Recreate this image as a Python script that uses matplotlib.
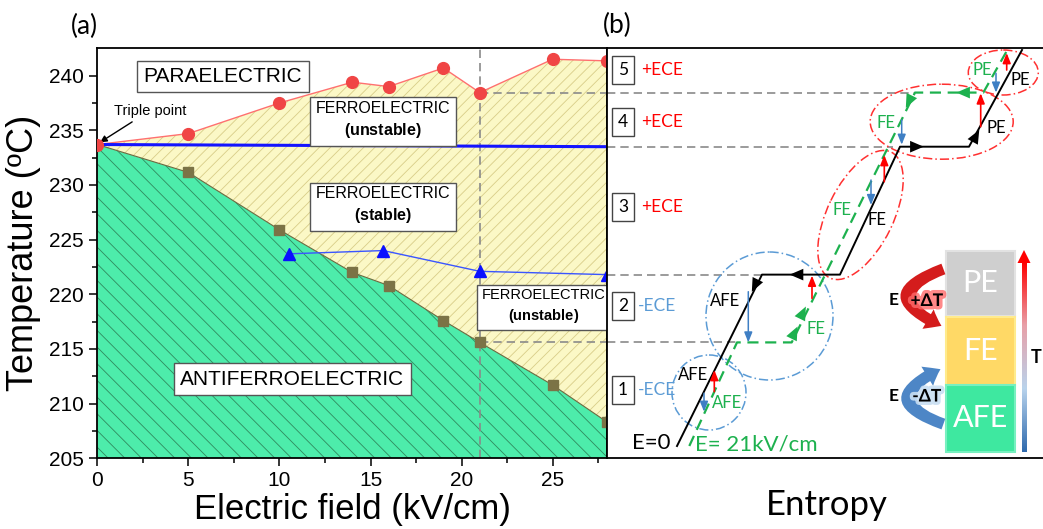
import numpy as np
import matplotlib
matplotlib.use('Agg')
import matplotlib.pyplot as plt
import matplotlib.patches as mpatches
import matplotlib.patheffects as pe
from matplotlib import transforms
from matplotlib.colors import LinearSegmentedColormap

plt.rcParams['font.family'] = ['Liberation Sans', 'DejaVu Sans']
plt.rcParams['hatch.linewidth'] = 0.6
plt.rcParams['mathtext.fontset'] = 'custom'
plt.rcParams['mathtext.rm'] = 'Liberation Sans'
plt.rcParams['mathtext.bf'] = 'Liberation Sans:bold'

# ---- panel (a) data: phase diagram ----
field = [0, 5, 10, 14, 16, 19, 21, 25, 28]                      # kV/cm
t_pe_fe = [233.7, 234.7, 237.5, 239.4, 239.0, 240.7, 238.45, 241.5, 241.35]
t_afe_fe = [233.7, 231.15, 225.9, 222.0, 220.8, 217.6, 215.6, 211.7, 208.3]
field_tri = [10.5, 15.7, 21, 28]
t_tri = [223.7, 224.0, 222.1, 221.8]
field_blue = [0, 28]
t_blue = [233.7, 233.5]

# ---- panel (b) schematic, pixel-like coords (y grows downward) ----
W, H = 1043, 529
Y0, Y1 = 48.3, 458.3
TMIN, TMAX = 205, 242.5


def t2y(t):
    return Y1 - (t - TMIN) * (Y1 - Y0) / (TMAX - TMIN)


lev = [238.45, 233.5, 221.8, 215.6]
ly = [t2y(v) for v in lev]
black_x = [677, 762, 840, 900, 969, 1022]
black_y = [446, ly[2], ly[2], ly[1], ly[1], 50]
green_x = [689.3, 737, 791.7, 915, 983.3, 1008.3]
green_y = [446, ly[3], ly[3], ly[0], ly[0], 48.3]

red_up = [(1006.7, 70, 53), (980.7, 126.7, 93.3), (884.3, 181.7, 155),
          (812, 298.3, ly[2] + 1), (714.3, 391.7, 370)]
blue_dn = [(996, 73.3, ly[0]), (901.7, 120, ly[1] - 2), (871, 180, 205),
           (748.3, 291.7, ly[3]), (704, 393.3, 411.7)]

fig = plt.figure(figsize=(W / 100, H / 100), dpi=100)


def frac(x0, y0, x1, y1):
    return [x0 / W, 1 - y1 / H, (x1 - x0) / W, (y1 - y0) / H]


ax = fig.add_axes(frac(97.3, Y0, 607.3, Y1))
axb = fig.add_axes(frac(607.3, Y0, 1043, Y1))

# ================= panel (a) =================
ax.fill_between(field, TMIN, t_afe_fe, facecolor='#4decab', edgecolor='#2f8a5e',
                hatch='\\\\', linewidth=0, zorder=1)
ax.fill_between(field, t_afe_fe, t_pe_fe, facecolor='#fbf8c6', edgecolor='#d8cd88',
                hatch='///', linewidth=0, zorder=1)

ax.plot(field, t_pe_fe, '-', color='#ff7070', lw=1, zorder=3)
ax.plot(field, t_pe_fe, 'o', color='#f04545', ms=8.5, zorder=4)
ax.plot(field, t_afe_fe, '-', color='#6a6a40', lw=0.8, zorder=3)
ax.plot(field[1:], t_afe_fe[1:], 's', color='#7b7346', ms=7.5, zorder=4)
ax.plot(field_blue, t_blue, '-', color='#1414ff', lw=2.2, zorder=3)
ax.plot(field_tri, t_tri, '-', color='#3a55ff', lw=1, zorder=3)
ax.plot(field_tri, t_tri, '^', color='#0a10ff', ms=9, zorder=4)

dash = dict(color='#8a8a8a', lw=1.2, ls=(0, (5, 3)), zorder=2)
ax.plot([21, 21], [TMIN, TMAX], **dash)
ax.plot([21, 28], [lev[0], lev[0]], **dash)
ax.plot([21, 28], [lev[3], lev[3]], **dash)

box = dict(boxstyle='square,pad=0.3', fc='white', ec='#555555', lw=1)
ax.text(6.9, 239.9, 'PARAELECTRIC', fontsize=15, ha='center', va='center', bbox=box, zorder=6)
ax.text(10.7, 212.25, 'ANTIFERROELECTRIC', fontsize=15, ha='center', va='center', bbox=box, zorder=6)
for xc, yc, sub, fs in [(15.7, 235.9, 'unstable', 11.5), (15.7, 228.1, 'stable', 11.5),
                        (24.5, 218.9, 'unstable', 10.5)]:
    ax.text(xc, yc, 'FERROELECTRIC\n$\\mathbf{(' + sub + ')}$', fontsize=fs,
            ha='center', va='center', multialignment='center',
            bbox=dict(boxstyle='square,pad=0.35', fc='white', ec='#555555', lw=1),
            zorder=6, linespacing=1.35)

ax.annotate('Triple point', xy=(0.15, 233.9), xytext=(0.9, 236.8), fontsize=10.5,
            ha='left', va='center',
            arrowprops=dict(arrowstyle='-|>', color='black', lw=1, shrinkA=2, shrinkB=0,
                            mutation_scale=10))

ax.set_xlim(0, 28)
ax.set_ylim(TMIN, TMAX)
ax.set_xticks([0, 5, 10, 15, 20, 25])
ax.set_xticks(np.arange(2.5, 28, 5), minor=True)
ax.set_yticks(np.arange(205, 241, 5))
ax.set_yticks(np.arange(207.5, 242, 5), minor=True)
ax.tick_params(which='both', direction='out', width=1.1, labelsize=15)
ax.tick_params(which='major', length=6)
ax.tick_params(which='minor', length=3.5)
for s in ax.spines.values():
    s.set_linewidth(1.3)
ax.set_xlabel('Electric field (kV/cm)', fontsize=25, labelpad=2)
ax.set_ylabel('Temperature (ºC)', fontsize=26, labelpad=6)

fig.text(84 / W, 1 - 26 / H, '(a)', fontsize=19, ha='center', va='center',
         family=['Lato', 'DejaVu Sans'])
fig.text(617.5 / W, 1 - 25 / H, '(b)', fontsize=19, ha='center', va='center',
         family=['Lato', 'DejaVu Sans'])

# ================= panel (b) =================
bf = ['Lato', 'DejaVu Sans']
green = '#1db14e'
ece_blue = '#5b9bd5'
arr_blue = '#3f7fc4'

trans = transforms.blended_transform_factory(axb.transData, ax.transData)
for t, xe in zip(lev, [915, 893, 762, 737]):
    axb.plot([607.3, xe], [t, t], transform=trans, **dash)

# ellipses
ell = dict(fill=False, lw=1.1, ls=(0, (6, 2, 1, 2)), zorder=2)
axb.add_patch(mpatches.Ellipse((1003.3, 72.5), 70, 45, ec='#ff3030', **ell))
axb.add_patch(mpatches.Ellipse((941.7, 121.7), 143, 75, ec='#ff3030', **ell))
axb.add_patch(mpatches.Ellipse((860.5, 215), 140, 66, angle=-64, ec='#ff3030', **ell))
axb.add_patch(mpatches.Ellipse((769.5, 316), 127, 128, ec=ece_blue, **ell))
axb.add_patch(mpatches.Ellipse((709, 392.5), 74, 75, ec=ece_blue, **ell))

axb.plot(black_x, black_y, '-', color='black', lw=1.4, zorder=4)
axb.plot(green_x, green_y, '-', color=green, lw=1.6, ls=(0, (5, 3)), zorder=4)


def head(x, y, dx, dy, color):
    n = np.hypot(dx, dy)
    axb.annotate('', xy=(x + 2 * dx / n, y + 2 * dy / n), xytext=(x, y),
                 arrowprops=dict(arrowstyle='-|>,head_length=0.7,head_width=0.3',
                                 color=color, lw=0, shrinkA=0, shrinkB=0,
                                 mutation_scale=14), zorder=5)


head(752.7, 290, black_x[0] - black_x[1], black_y[0] - black_y[1], 'black')
head(791.7, ly[2], -1, 0, 'black')
head(921.7, ly[1], 1, 0, 'black')
head(978.3, 131.7, black_x[5] - black_x[4], black_y[5] - black_y[4], 'black')
head(796.7, 328.3, green_x[3] - green_x[2], green_y[3] - green_y[2], green)
head(805, 308.3, green_x[3] - green_x[2], green_y[3] - green_y[2], green)
head(906.7, 106, green_x[2] - green_x[3], green_y[2] - green_y[3], green)
head(958.3, ly[0], -1, 0, green)

for x, y0, y1 in red_up:
    axb.annotate('', xy=(x, y1), xytext=(x, y0),
                 arrowprops=dict(arrowstyle='-|>,head_length=0.5,head_width=0.2',
                                 color='#ff0000', lw=1.2, shrinkA=0, shrinkB=0,
                                 mutation_scale=12), zorder=5)
for x, y0, y1 in blue_dn:
    axb.annotate('', xy=(x, y1), xytext=(x, y0),
                 arrowprops=dict(arrowstyle='-|>,head_length=0.5,head_width=0.2',
                                 color=arr_blue, lw=1.1, shrinkA=0, shrinkB=0,
                                 mutation_scale=12), zorder=5)

# step boxes and ECE labels
nbox = dict(boxstyle='square,pad=0.35', fc='white', ec='#444444', lw=1)
for num, yc, lab, col in [('5', 70, '+ECE', '#ff0000'), ('4', 121.7, '+ECE', '#ff0000'),
                          ('3', 207, '+ECE', '#ff0000'), ('2', 306, '-ECE', ece_blue),
                          ('1', 390, '-ECE', ece_blue)]:
    axb.text(623, yc, num, fontsize=12.5, ha='center', va='center', bbox=nbox,
             family=bf, zorder=6)
    axb.text(641 if lab == '+ECE' else 638, yc, lab, fontsize=12.5, ha='left',
             va='center', color=col, family=bf, zorder=6)

for s, x, y, c in [('PE', 982.7, 70, green), ('PE', 1020.7, 80, 'black'),
                   ('PE', 996.7, 128.3, 'black'), ('FE', 886, 122.7, green),
                   ('FE', 841.7, 210, green), ('FE', 877.3, 220, 'black'),
                   ('AFE', 725, 301, 'black'), ('FE', 815.7, 329.3, green),
                   ('AFE', 693.3, 375, 'black'), ('AFE', 726.7, 402.7, green)]:
    axb.text(x, y, s, fontsize=12, color=c, ha='center', va='center', family=bf, zorder=6)
axb.text(651.7, 443, 'E=0', fontsize=16, ha='center', va='center', family=bf, zorder=6)
axb.text(756.7, 445, 'E= 21kV/cm', fontsize=16, color=green, ha='center', va='center',
         family=bf, zorder=6)

# inset: phase stack
for (y0, y1), fc, ec, lab in [((251, 316), '#cfcfcf', '#e2e2e2', 'PE'),
                              ((317, 385), '#ffd966', '#ffeb8c', 'FE'),
                              ((385, 452), '#3ee8a0', '#78f0c0', 'AFE')]:
    axb.add_patch(mpatches.Rectangle((946, y0), 69, y1 - y0, fc=fc, ec=ec, lw=1.5, zorder=3))
    axb.text(980.5, (y0 + y1) / 2, lab, fontsize=22, color='white', ha='center',
             va='center', family=bf, zorder=4)

cmap = LinearSegmentedColormap.from_list('tbar', ['#2f6aad', '#b9d3ec', '#e8a0a8', '#ff0000'])
grad = np.linspace(1, 0, 256)[:, None]
axb.imshow(grad, extent=[1021.5, 1026.5, 452, 262], aspect='auto', cmap=cmap, zorder=3)
axb.add_patch(mpatches.Polygon([(1017.5, 263), (1030.5, 263), (1024, 250)],
                               closed=True, fc='#ff0000', ec='none', zorder=3))
axb.text(1036.5, 358, 'T', fontsize=13, fontweight='bold', ha='center', va='center',
         family=bf, zorder=4)

axb.add_patch(mpatches.FancyArrowPatch((946, 268), (944, 327), connectionstyle='arc3,rad=1.25',
                                       arrowstyle='simple,head_length=0.6,head_width=0.9,tail_width=0.45',
                                       mutation_scale=18, color='#d41c1c', lw=0, zorder=3))
axb.add_patch(mpatches.FancyArrowPatch((946, 425), (943, 368), connectionstyle='arc3,rad=-1.25',
                                       arrowstyle='simple,head_length=0.6,head_width=0.9,tail_width=0.45',
                                       mutation_scale=18, color='#4d86c6', lw=0, zorder=3))
axb.text(893.3, 300, 'E', fontsize=12.5, fontweight='bold', ha='center', va='center', family=bf, zorder=5)
axb.text(926.7, 301, '+ΔT', fontsize=12.5, fontweight='bold', ha='center', va='center', family=bf, zorder=5,
         path_effects=[pe.withStroke(linewidth=5, foreground='#ff6a6a', alpha=0.8)])
axb.text(893.3, 396, 'E', fontsize=12.5, fontweight='bold', ha='center', va='center', family=bf, zorder=5)
axb.text(926.7, 396.5, '-ΔT', fontsize=12.5, fontweight='bold', ha='center', va='center', family=bf, zorder=5,
         path_effects=[pe.withStroke(linewidth=5, foreground='#c8def2', alpha=0.9)])

axb.set_xlim(607.3, 1043)
axb.set_ylim(Y1, Y0)
axb.set_xticks([])
axb.set_yticks([])
axb.spines['right'].set_visible(False)
for s in ['top', 'bottom', 'left']:
    axb.spines[s].set_linewidth(1.3)

fig.text(827 / W, 1 - 505 / H, 'Entropy', fontsize=25, ha='center', va='center', family=bf)

fig.savefig('out.png', dpi=100)
